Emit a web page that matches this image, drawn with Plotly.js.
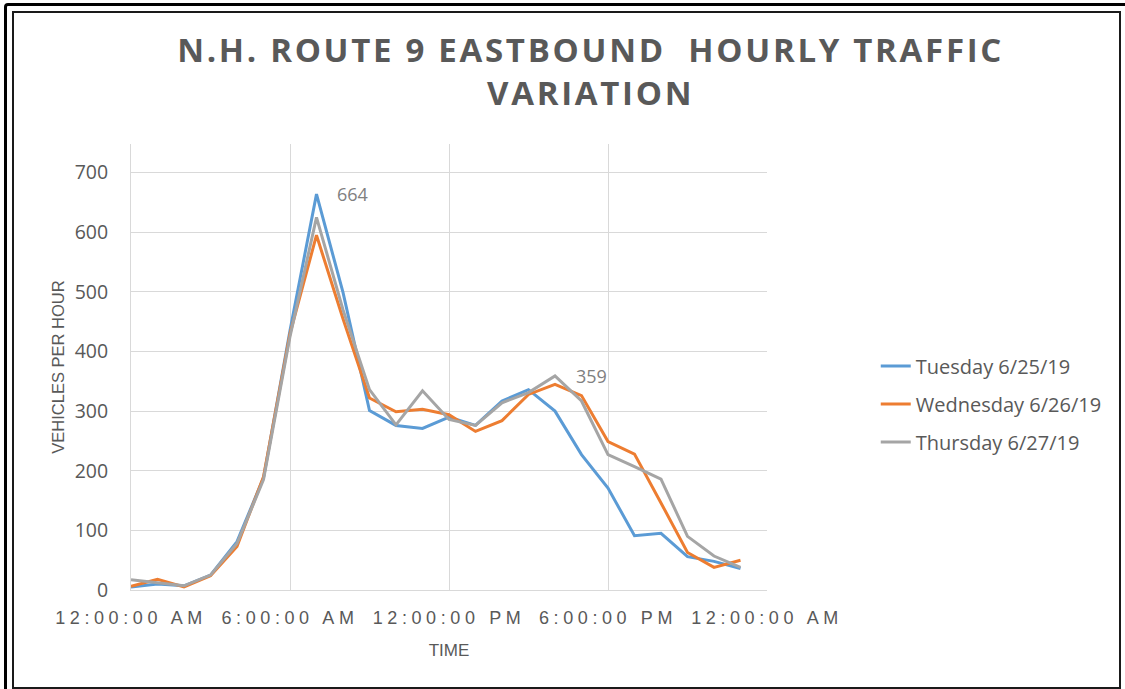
<!DOCTYPE html>
<html>
<head>
<meta charset="utf-8">
<script src="https://cdn.plot.ly/plotly-3.0.1.min.js"></script>
<style>
  html, body { margin: 0; padding: 0; background: #fff; }
  #wrap { position: relative; width: 1125px; height: 689px; overflow: hidden; }
  #chart { position: absolute; left: 0; top: 0; width: 1125px; height: 689px; }
  .frame-outer { position: absolute; left: 4px; top: 3px; width: 1140px; height: 700px; border: 3px solid #000; border-radius: 4px; pointer-events: none; }
  .frame-inner { position: absolute; left: 12px; top: 11px; width: 1105px; height: 674px; border: 2px solid #1a1a1a; pointer-events: none; }
</style>
</head>
<body>
<div id="wrap">
  <div id="chart"></div>
  <div class="frame-outer"></div>
  <div class="frame-inner"></div>
</div>
<script>
// Hour of day (0 = 12:00 AM)
const hours = [0,1,2,3,4,5,6,7,8,9,10,11,12,13,14,15,16,17,18,19,20,21,22,23];

const tuesday   = [5, 10, 7, 25, 81, 188, 435, 664, 499, 301, 276, 271, 290, 276, 317, 336, 300, 227, 171, 91, 95, 56, 48, 36];
const wednesday = [6, 18, 5, 24, 73, 190, 430, 595, 455, 322, 299, 303, 294, 266, 284, 328, 345, 326, 249, 228, 146, 63, 38, 50];
const thursday  = [17, 12, 7, 25, 78, 185, 425, 625, 470, 336, 277, 334, 286, 276, 314, 331, 359, 317, 227, 207, 186, 90, 57, 38];

const seriesNames = ["Tuesday 6/25/19", "Wednesday 6/26/19", "Thursday 6/27/19"];
const seriesColors = ["#5B9BD5", "#ED7D31", "#A5A5A5"];

const tickVals = [0, 6, 12, 18, 24];
const tickText = ["12:00:00 AM", "6:00:00 AM", "12:00:00 PM", "6:00:00 PM", "12:00:00 AM"];
const yTickVals = [0, 100, 200, 300, 400, 500, 600, 700];

// Data labels: Tuesday peak and Thursday afternoon peak
const labelTueIdx = 7;
const labelThuIdx = 16;

const allSeries = [tuesday, wednesday, thursday];
const traces = allSeries.map((vals, i) => ({
  type: "scatter",
  mode: "lines",
  x: hours,
  y: vals,
  name: seriesNames[i],
  legendgroup: "g" + i,
  line: { color: seriesColors[i], width: 3 },
  hoverinfo: "x+y+name"
}));

const gray = "#595959";

const layout = {
  width: 1125,
  height: 689,
  paper_bgcolor: "#ffffff",
  plot_bgcolor: "#ffffff",
  margin: { l: 131, r: 358, t: 144, b: 99 },
  title: {
    text: "N.H. ROUTE 9 EASTBOUND  HOURLY TRAFFIC<br>VARIATION",
    font: { family: "Open Sans, sans-serif", size: 33, color: gray, weight: 700 },
    x: 0.525, xref: "container", xanchor: "center",
    y: 0.91, yref: "container", yanchor: "top"
  },
  xaxis: {
    range: [0, 24],
    tickvals: tickVals,
    ticktext: tickText,
    showgrid: true,
    gridcolor: "#d9d9d9",
    gridwidth: 1,
    zeroline: false,
    showline: true,
    linecolor: "#d9d9d9",
    linewidth: 1,
    ticks: "",
    ticklabelstandoff: 11,
    tickfont: { family: "Liberation Sans, sans-serif", size: 18, color: gray },
    title: { text: "TIME", font: { family: "Liberation Sans, sans-serif", size: 17, color: gray }, standoff: 17 },
    fixedrange: true
  },
  yaxis: {
    range: [0, 748],
    tickvals: yTickVals,
    showgrid: true,
    gridcolor: "#d9d9d9",
    gridwidth: 1,
    zeroline: false,
    showline: true,
    linecolor: "#d9d9d9",
    linewidth: 1,
    ticks: "",
    ticklabelstandoff: 18,
    tickfont: { family: "Open Sans, sans-serif", size: 19.5, color: gray },
    title: { text: "VEHICLES PER HOUR", font: { family: "Liberation Sans, sans-serif", size: 16.5, color: gray }, standoff: 5 },
    fixedrange: true
  },
  showlegend: true,
  legend: {
    x: 1.171, xanchor: "left",
    y: 0.417, yanchor: "middle",
    font: { family: "Open Sans, sans-serif", size: 20, color: gray },
    tracegroupgap: 9,
    bgcolor: "rgba(0,0,0,0)"
  },
  annotations: [
    { x: hours[labelTueIdx], y: tuesday[labelTueIdx], xref: "x", yref: "y", text: String(tuesday[labelTueIdx]),
      showarrow: false, xanchor: "left", yanchor: "middle", xshift: 18,
      font: { family: "Open Sans, sans-serif", size: 18, color: "#808080" } },
    { x: hours[labelThuIdx], y: thursday[labelThuIdx], xref: "x", yref: "y", text: String(thursday[labelThuIdx]),
      showarrow: false, xanchor: "left", yanchor: "middle", xshift: 19,
      font: { family: "Open Sans, sans-serif", size: 18, color: "#808080" } }
  ]
};

Plotly.newPlot("chart", traces, layout, { displayModeBar: false, staticPlot: true }).then(() => {
  document.querySelectorAll("#chart .xtick text").forEach(t => { t.style.letterSpacing = "4.6px"; });
  const tt = document.querySelector("#chart .gtitle");
  if (tt) tt.style.letterSpacing = "2.7px";
});
</script>
</body>
</html>
